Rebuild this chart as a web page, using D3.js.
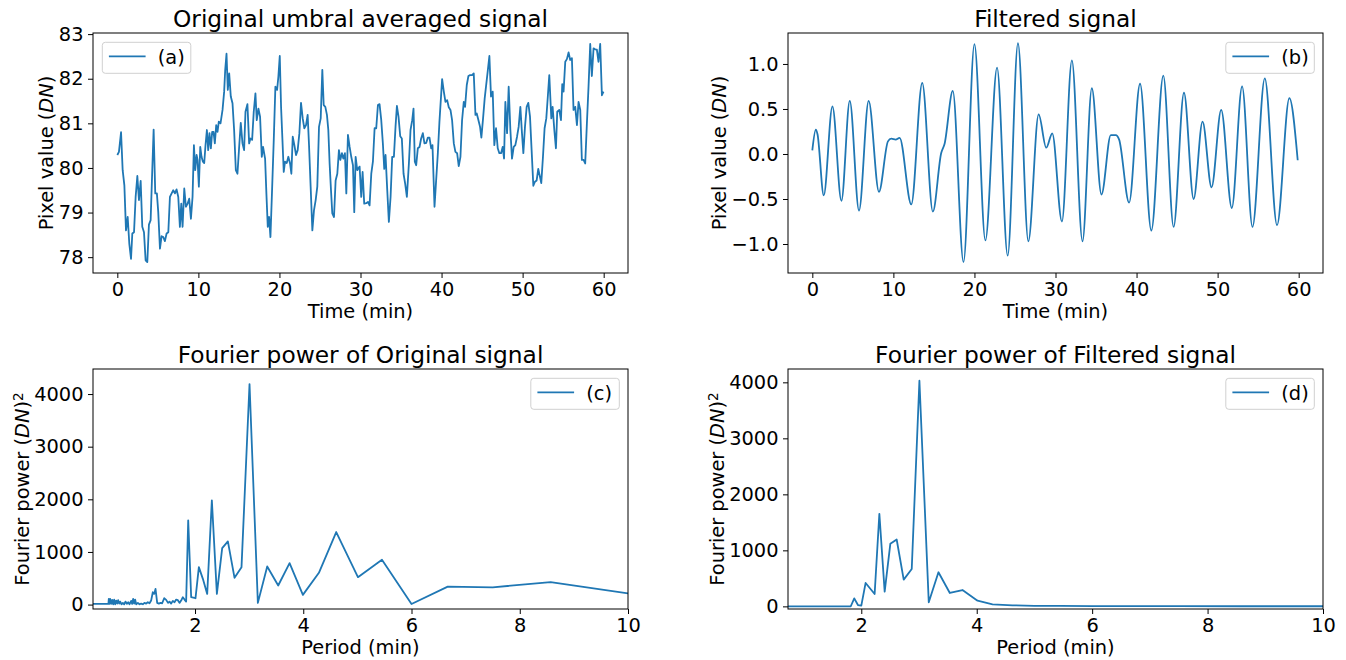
<!DOCTYPE html>
<html>
<head>
<meta charset="UTF-8">
<title>Umbral signal</title>
<script src="https://d3js.org/d3.v7.min.js"></script>
<style>
  body { margin: 0; background: #fff; }
  svg { display: block; font-family: "DejaVu Sans", sans-serif; }
</style>
</head>
<body>
<svg id="chart"></svg>
<script>
// (a) original signal
const timeA = [0, 0.2, 0.46, 0.66, 0.87, 1.07, 1.28, 1.48, 1.69, 1.85, 2.06, 2.26, 2.47, 2.67, 2.88, 3.08, 3.29, 3.49, 3.7, 3.9,
  4.11, 4.31, 4.48, 4.68, 4.88, 5.05, 5.26, 5.46, 5.67, 5.87, 6.08, 6.29, 6.49, 6.7, 6.9, 7.11, 7.31, 7.52, 7.72, 7.89,
  8.05, 8.26, 8.46, 8.67, 8.87, 9.08, 9.28, 9.45, 9.61, 9.78, 9.9, 10.06, 10.23, 10.39, 10.56, 10.72, 10.88, 11.05, 11.21, 11.37,
  11.54, 11.7, 11.87, 12.03, 12.2, 12.36, 12.52, 12.73, 12.98, 13.18, 13.31, 13.47, 13.63, 13.8, 14.0, 14.21, 14.41, 14.62, 14.82, 15.03,
  15.23, 15.44, 15.64, 15.81, 16.05, 16.26, 16.42, 16.63, 16.83, 17.04, 17.2, 17.41, 17.61, 17.82, 17.98, 18.23, 18.39, 18.56, 18.72, 18.89,
  19.09, 19.3, 19.5, 19.71, 19.87, 20.04, 20.2, 20.37, 20.53, 20.69, 20.9, 21.1, 21.31, 21.47, 21.64, 21.84, 22.05, 22.25, 22.46, 22.66,
  22.87, 23.07, 23.28, 23.48, 23.65, 23.85, 24.06, 24.26, 24.47, 24.67, 24.88, 25.09, 25.29, 25.46, 25.66, 25.86, 26.03, 26.19, 26.36, 26.52,
  26.73, 26.93, 27.14, 27.34, 27.51, 27.71, 27.88, 28.08, 28.25, 28.45, 28.66, 28.86, 29.07, 29.23, 29.4, 29.6, 29.89, 30.09, 30.26, 30.46,
  30.71, 30.92, 31.12, 31.33, 31.53, 31.74, 31.94, 32.15, 32.35, 32.56, 32.76, 32.93, 33.09, 33.3, 33.5, 33.71, 33.91, 34.12, 34.32, 34.49,
  34.69, 34.9, 35.1, 35.31, 35.51, 35.72, 35.97, 36.17, 36.38, 36.54, 36.7, 36.87, 37.07, 37.28, 37.48, 37.69, 37.89, 38.1, 38.31, 38.51,
  38.72, 38.88, 39.13, 39.33, 39.54, 39.74, 40.07, 40.28, 40.48, 40.69, 40.89, 41.1, 41.3, 41.51, 41.71, 41.92, 42.12, 42.33, 42.53, 42.74,
  42.9, 43.11, 43.31, 43.52, 43.76, 43.97, 44.18, 44.34, 44.55, 44.75, 44.91, 45.12, 45.32, 45.53, 45.69, 45.9, 46.1, 46.31, 46.51, 46.72,
  46.93, 47.13, 47.34, 47.54, 47.71, 47.87, 48.08, 48.28, 48.49, 48.69, 48.9, 49.1, 49.31, 49.51, 49.72, 49.92, 50.09, 50.29, 50.5, 50.7,
  50.91, 51.11, 51.32, 51.52, 51.73, 51.93, 52.14, 52.3, 52.51, 52.71, 52.92, 53.12, 53.29, 53.54, 53.7, 53.91, 54.11, 54.27, 54.52, 54.73,
  54.89, 55.05, 55.26, 55.46, 55.67, 55.87, 56.08, 56.28, 56.49, 56.7, 56.9, 57.11, 57.31, 57.52, 57.72, 57.93, 58.13, 58.34, 58.54, 58.75,
  58.95, 59.16, 59.36, 59.57, 59.78, 59.98];
const valueA = [80.29, 80.36, 80.8, 79.95, 79.61, 78.6, 78.9, 78.3, 77.96, 78.53, 78.56, 79.35, 79.82, 79.28, 79.71, 78.68, 78.56, 77.93, 77.89, 78.73,
  78.83, 79.95, 80.86, 79.43, 79.43, 79.01, 78.19, 78.47, 78.45, 78.36, 78.53, 78.56, 79.35, 79.43, 79.5, 79.43, 79.52, 79.35, 78.68, 79.2,
  78.68, 79.54, 79.13, 79.2, 79.31, 78.86, 79.35, 80.51, 79.95, 80.29, 80.18, 79.58, 80.47, 80.25, 80.14, 80.11, 80.51, 80.85, 80.4, 80.78,
  80.44, 80.81, 80.81, 80.55, 80.96, 80.81, 81.04, 81.0, 81.3, 81.71, 82.2, 82.56, 81.75, 82.12, 81.6, 81.45, 80.85, 79.95, 79.87, 80.47,
  81.01, 80.55, 80.4, 81.26, 81.43, 80.55, 80.66, 80.63, 81.26, 81.67, 81.07, 81.33, 81.15, 80.25, 80.47, 80.21, 79.43, 78.68, 78.9, 78.45,
  79.5, 80.63, 81.82, 81.75, 82.05, 82.51, 81.37, 80.63, 79.91, 80.14, 80.11, 80.25, 80.1, 79.87, 80.7, 80.51, 80.29, 80.4, 80.78, 81.46,
  81.11, 80.89, 80.96, 81.19, 80.51, 79.58, 78.6, 79.05, 79.28, 79.58, 80.92, 81.11, 82.2, 81.41, 81.37, 81.19, 80.85, 80.1, 79.5, 78.98,
  78.9, 79.72, 79.87, 80.4, 80.18, 80.33, 80.21, 80.33, 79.43, 80.74, 80.47, 80.25, 80.06, 79.01, 80.25, 79.95, 80.03, 79.35, 79.91, 79.2,
  79.21, 79.24, 79.16, 79.87, 80.14, 80.89, 80.89, 81.41, 81.43, 81.07, 80.55, 79.98, 80.29, 79.5, 78.79, 79.35, 80.25, 80.25, 80.92, 81.39,
  81.15, 80.71, 80.66, 79.87, 79.65, 79.35, 80.1, 80.85, 81.07, 81.33, 80.14, 80.06, 80.44, 80.47, 80.66, 80.78, 80.55, 80.56, 80.68, 80.68,
  80.44, 80.51, 79.13, 79.72, 80.33, 81.04, 81.99, 81.71, 81.48, 81.52, 81.36, 81.3, 81.07, 80.55, 80.36, 80.33, 80.04, 80.25, 81.07, 81.48,
  81.37, 81.86, 82.06, 82.08, 82.08, 82.12, 81.19, 81.22, 81.07, 80.92, 80.68, 81.11, 81.56, 81.9, 82.16, 82.51, 81.6, 81.71, 80.51, 80.89,
  80.44, 80.33, 80.33, 80.47, 80.21, 81.48, 80.78, 81.82, 80.85, 80.21, 80.47, 80.51, 80.7, 80.92, 81.37, 80.78, 80.33, 80.92, 81.37, 81.46,
  81.15, 80.4, 79.6, 79.69, 79.72, 79.98, 79.8, 79.66, 80.25, 80.89, 81.11, 81.63, 82.08, 81.11, 81.37, 80.85, 80.44, 81.26, 81.3, 81.07,
  81.88, 81.71, 82.38, 82.44, 82.59, 82.42, 82.46, 81.3, 81.37, 80.96, 81.48, 81.3, 80.18, 80.18, 80.1, 81.0, 81.82, 82.78, 82.06, 82.68,
  82.66, 82.65, 82.38, 82.78, 81.63, 81.71];

// (b) filtered signal: turning points and shoulders
const timeB = [0, 0.43, 0.64, 1.41, 2.48, 3.59, 4.62, 5.76, 6.95, 8.22, 9.33, 9.74, 10.28, 10.77, 12.21, 13.56, 14.87, 15.9, 16.31, 17.33,
  18.65, 20.0, 21.35, 22.79, 24.1, 25.37, 26.65, 27.92, 28.86, 29.6, 30.79, 32.02, 33.33, 34.48, 35.67, 36.82, 37.44, 37.85, 39.08, 40.43,
  41.82, 43.3, 44.57, 45.85, 47.04, 48.14, 49.25, 50.44, 51.75, 53.02, 54.3, 55.82, 57.33, 58.85, 59.88];
const valueB = [0.04, 0.27, 0.22, -0.46, 0.53, -0.52, 0.59, -0.63, 0.59, -0.42, 0.14, 0.17, 0.16, 0.18, -0.56, 0.79, -0.64, 0.01, 0.11, 0.7,
  -1.2, 1.22, -0.96, 0.96, -1.13, 1.23, -0.97, 0.44, 0.07, 0.23, -0.75, 1.04, -0.97, 0.73, -0.45, 0.21, 0.21, 0.16, -0.54, 0.78,
  -0.85, 0.87, -0.81, 0.68, -0.5, 0.36, -0.37, 0.49, -0.6, 0.75, -0.81, 0.84, -0.79, 0.62, -0.07];

// (c) Fourier power of original signal
const periodC = [0.115, 0.40, 0.407, 0.42, 0.432, 0.451, 0.469, 0.488, 0.506, 0.525, 0.543, 0.562, 0.58, 0.599, 0.617, 0.642, 0.667, 0.691, 0.715, 0.74, 0.765,
  0.789, 0.82, 0.839, 0.857, 0.876, 0.894, 0.913, 0.944, 0.974, 1.005, 1.036, 1.067, 1.097, 1.128, 1.159, 1.189, 1.22, 1.245, 1.27, 1.301,
  1.332, 1.363, 1.393, 1.43, 1.467, 1.501, 1.529, 1.559, 1.59, 1.621, 1.652, 1.683, 1.713, 1.744, 1.775, 1.806, 1.836, 1.874, 1.929, 2.009,
  2.071, 2.145, 2.225, 2.311, 2.404, 2.502, 2.607, 2.73, 2.859, 3.007, 3.161, 3.334, 3.537, 3.747, 3.993, 4.289, 4.609, 5.01, 5.454, 6.0,
  6.67, 7.5, 8.57, 10];
const powerC = [12, 12, 108, 13, 108, 13, 89, 6, 95, 6, 76, 19, 83, 19, 57, 6, 32, 6, 57, 13, 44,
  6, 70, 13, 108, 19, 95, 6, 32, 6, 19, 6, 32, 19, 44, 25, 76, 235, 203, 298, 32,
  19, 32, 25, 121, 89, 32, 57, 19, 70, 44, 95, 83, 32, 76, 140, 95, 57, 1600, 140, 121,
  711, 489, 203, 1981, 203, 1073, 1200, 508, 711, 4190, 32, 724, 362, 787, 184, 603, 1378, 521, 851, 10,
  341, 328, 428, 211];

// (d) Fourier power of filtered signal
const periodD = [0.73, 1.0, 1.5, 1.818, 1.878, 1.942, 2.0, 2.075, 2.231, 2.313, 2.405, 2.503, 2.613, 2.735, 2.874, 3.007, 3.169, 3.337, 3.534, 3.753,
  4.014, 4.274, 4.62, 5.0, 5.45, 6.0, 6.67, 7.5, 8.57, 10];
const powerD = [0, 0, 0, 2, 143, 24, 12, 418, 221, 1653, 263, 1116, 1194, 477, 668, 4028, 72, 609, 239, 292,
  101, 36, 18, 10, 7, 5, 4, 3, 2, 2];

const timeTicks = [0, 10, 20, 30, 40, 50, 60];
const pixelTicksA = [78, 79, 80, 81, 82, 83];
const pixelTicksB = [-1.0, -0.5, 0.0, 0.5, 1.0];
const periodTicks = [2, 4, 6, 8, 10];
const powerTicks = [0, 1000, 2000, 3000, 4000];

const W = 1346, H = 660;
const blue = "#1f77b4";
const fs = 19.4;      // ticks, axis labels, legend
const titleFs = 23.3;

const svg = d3.select("#chart").attr("width", W).attr("height", H);
svg.append("rect").attr("width", W).attr("height", H).attr("fill", "#fff");

const panels = [
  {id: "a", x: timeA, y: valueA, left: 93, right: 628, top: 33, bottom: 273,
   xd: [-3, 63], yd: [77.645, 83.025], xt: timeTicks, yt: pixelTicksA, yf: d3.format("d"),
   title: "Original umbral averaged signal", xlab: "Time (min)", ylab: "pixel", ylabX: 53,
   legend: "left", curve: d3.curveLinear},
  {id: "b", x: timeB, y: valueB, left: 788, right: 1323, top: 33, bottom: 273,
   xd: [-3, 63], yd: [-1.322, 1.344], xt: timeTicks, yt: pixelTicksB, yf: d3.format(".1f"),
   title: "Filtered signal", xlab: "Time (min)", ylab: "pixel", ylabX: 726,
   legend: "right", curve: d3.curveMonotoneX},
  {id: "c", x: periodC, y: powerC, left: 93, right: 628, top: 369, bottom: 609,
   xd: [0.115, 10], yd: [-84, 4476], xt: periodTicks, yt: powerTicks, yf: d3.format("d"),
   title: "Fourier power of Original signal", xlab: "Period (min)", ylab: "power", ylabX: 29,
   legend: "right", curve: d3.curveLinear},
  {id: "d", x: periodD, y: powerD, left: 788, right: 1323, top: 369, bottom: 609,
   xd: [0.73, 10], yd: [-47, 4238], xt: periodTicks, yt: powerTicks, yf: d3.format("d"),
   title: "Fourier power of Filtered signal", xlab: "Period (min)", ylab: "power", ylabX: 724,
   legend: "right", curve: d3.curveLinear}
];

panels.forEach(p => {
  const xs = d3.scaleLinear().domain(p.xd).range([p.left, p.right]);
  const ys = d3.scaleLinear().domain(p.yd).range([p.bottom, p.top]);
  const g = svg.append("g");

  // clip
  svg.append("clipPath").attr("id", "clip-" + p.id)
    .append("rect").attr("x", p.left).attr("y", p.top)
    .attr("width", p.right - p.left).attr("height", p.bottom - p.top);

  const pts = p.x.map((v, i) => [v, p.y[i]]);
  g.append("path")
    .datum(pts)
    .attr("clip-path", `url(#clip-${p.id})`)
    .attr("fill", "none")
    .attr("stroke", blue)
    .attr("stroke-width", 1.8)
    .attr("stroke-linejoin", "round")
    .attr("d", d3.line().x(d => xs(d[0])).y(d => ys(d[1])).curve(p.curve));

  // axes
  const xa = g.append("g").attr("transform", `translate(0,${p.bottom})`)
    .call(d3.axisBottom(xs).tickValues(p.xt).tickSize(5).tickSizeOuter(0).tickPadding(4.5).tickFormat(d3.format("d")));
  const ya = g.append("g").attr("transform", `translate(${p.left},0)`)
    .call(d3.axisLeft(ys).tickValues(p.yt).tickSize(5).tickSizeOuter(0).tickPadding(4.5).tickFormat(p.yf));
  [xa, ya].forEach(a => {
    a.select(".domain").remove();
    a.selectAll("line").attr("stroke", "#000").attr("stroke-width", 1);
    a.selectAll("text").attr("fill", "#000").style("font-size", fs + "px").style("font-family", "DejaVu Sans");
  });

  // spines
  g.append("rect").attr("x", p.left).attr("y", p.top)
    .attr("width", p.right - p.left).attr("height", p.bottom - p.top)
    .attr("fill", "none").attr("stroke", "#000").attr("stroke-width", 1);

  const cx = (p.left + p.right) / 2;
  g.append("text").attr("x", cx).attr("y", p.top - 6)
    .attr("text-anchor", "middle").style("font-size", titleFs + "px").text(p.title);

  g.append("text").attr("x", cx).attr("y", p.bottom + 45)
    .attr("text-anchor", "middle").style("font-size", fs + "px").text(p.xlab);

  const cy = (p.top + p.bottom) / 2;
  const yl = g.append("text")
    .attr("transform", `translate(${p.ylabX},${cy})rotate(-90)`)
    .attr("text-anchor", "middle").style("font-size", fs + "px");
  if (p.ylab === "pixel") {
    yl.append("tspan").text("Pixel value (");
    yl.append("tspan").style("font-style", "italic").text("DN");
    yl.append("tspan").text(")");
  } else {
    yl.append("tspan").text("Fourier power (");
    yl.append("tspan").style("font-style", "italic").text("DN");
    yl.append("tspan").text(")");
    yl.append("tspan").attr("dy", "-0.45em").style("font-size", "13.6px").text("2");
  }

  // legend
  const bw = 88.5, bh = 31;
  const bx = p.legend === "left" ? p.left + 9.3 : p.right - 8.7 - bw;
  const by = p.top + 9.3;
  const lg = g.append("g");
  lg.append("rect").attr("x", bx).attr("y", by).attr("width", bw).attr("height", bh)
    .attr("rx", 3).attr("fill", "#fff").attr("fill-opacity", 0.8)
    .attr("stroke", "#d0d0d0").attr("stroke-width", 1);
  lg.append("line").attr("x1", bx + 6.6).attr("x2", bx + 43.3)
    .attr("y1", by + 14).attr("y2", by + 14)
    .attr("stroke", blue).attr("stroke-width", 1.8);
  lg.append("text").attr("x", bx + 55.5).attr("y", by + 21.5)
    .style("font-size", fs + "px").text(`(${p.id})`);
});
</script>
</body>
</html>
